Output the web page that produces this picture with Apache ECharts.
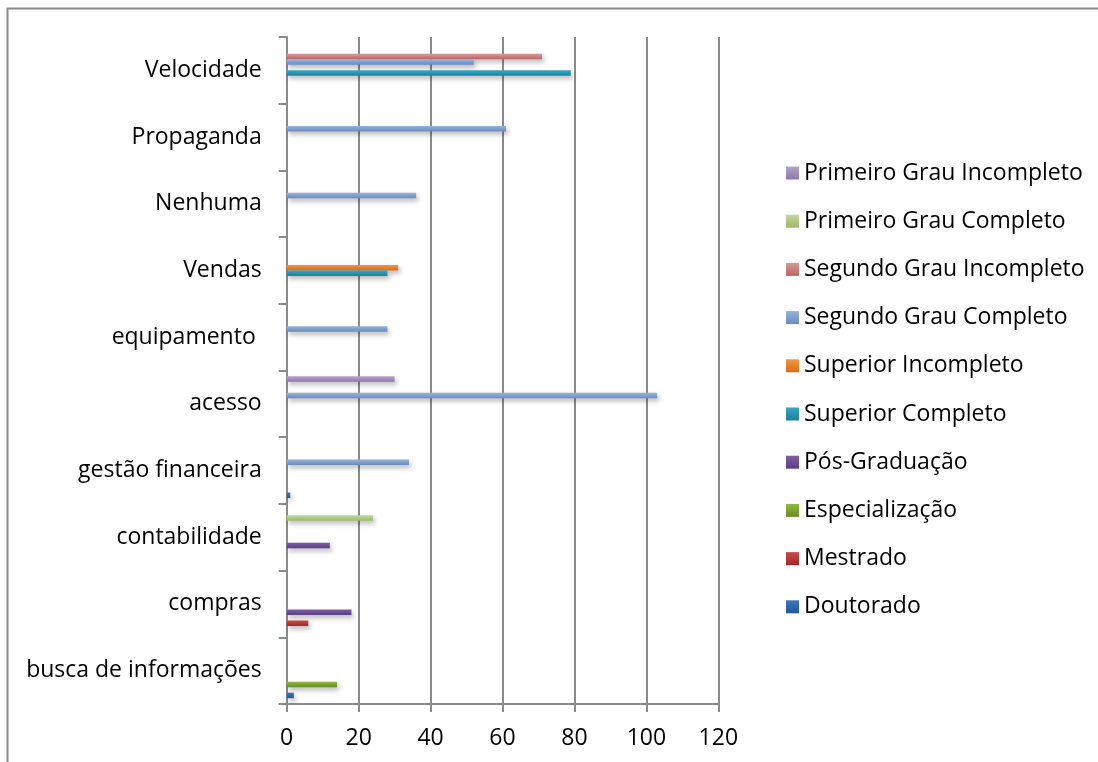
<!DOCTYPE html>
<html>
<head>
<meta charset="utf-8">
<script src="https://cdn.jsdelivr.net/npm/echarts@6/dist/echarts.min.js"></script>
<style>
  html, body { margin: 0; padding: 0; background: #ffffff; }
  #chart { width: 1098px; height: 762px; }
</style>
</head>
<body>
<div id="chart"></div>
<script>
// Categories, bottom to top
const categories = [
  'busca de informações', 'compras', 'contabilidade', 'gestão financeira',
  'acesso', 'equipamento ', 'Vendas', 'Nenhuma', 'Propaganda', 'Velocidade'
];

// One array per schooling level (null = no answer)
const primeiroGrauIncompleto = [null, null, null, null, 30, null, null, null, null, null];
const primeiroGrauCompleto   = [null, null, 24, null, null, null, null, null, null, null];
const segundoGrauIncompleto  = [null, null, null, null, null, null, null, null, null, 71];
const segundoGrauCompleto    = [null, null, null, 34, 103, 28, null, 36, 61, 52];
const superiorIncompleto     = [null, null, null, null, null, null, 31, null, null, null];
const superiorCompleto       = [null, null, null, null, null, null, 28, null, null, 79];
const posGraduacao           = [null, 18, 12, null, null, null, null, null, null, null];
const especializacao         = [14, null, null, null, null, null, null, null, null, null];
const mestrado               = [null, 6, null, null, null, null, null, null, null, null];
const doutorado              = [2, null, null, 1, null, null, null, null, null, null];

const xTicks = [0, 20, 40, 60, 80, 100, 120];

const seriesDefs = [
  { name: 'Primeiro Grau Incompleto', data: primeiroGrauIncompleto, c: ['#B4A4C9', '#8C78AC'] },
  { name: 'Primeiro Grau Completo',   data: primeiroGrauCompleto,   c: ['#C4D89E', '#9BB76A'] },
  { name: 'Segundo Grau Incompleto',  data: segundoGrauIncompleto,  c: ['#DB9896', '#B66664'] },
  { name: 'Segundo Grau Completo',    data: segundoGrauCompleto,    c: ['#97B4DA', '#6A89BE'] },
  { name: 'Superior Incompleto',      data: superiorIncompleto,     c: ['#F7953F', '#D46F1C'] },
  { name: 'Superior Completo',        data: superiorCompleto,       c: ['#33A7C7', '#1F7E9A'] },
  { name: 'Pós-Graduação',            data: posGraduacao,           c: ['#7E5EA6', '#5A3E84'] },
  { name: 'Especialização',           data: especializacao,         c: ['#8FBA40', '#688C28'] },
  { name: 'Mestrado',                 data: mestrado,               c: ['#CA4B46', '#A02826'] },
  { name: 'Doutorado',                data: doutorado,              c: ['#3B76C0', '#245898'] }
];

const FONT = '"Open Sans"';
const FONT_SIZE = 23;
const GRID_GRAY = '#8A8A8A';

const chart = echarts.init(document.getElementById('chart'), null, { renderer: 'canvas' });

const series = seriesDefs.map(s => ({
  name: s.name,
  type: 'bar',
  data: s.data,
  barGap: '0%',
  barCategoryGap: '17.5%',
  itemStyle: {
    color: new echarts.graphic.LinearGradient(0, 0, 0, 1, [
      { offset: 0, color: s.c[0] },
      { offset: 1, color: s.c[1] }
    ]),
    shadowColor: 'rgba(0,0,0,0.28)',
    shadowBlur: 5,
    shadowOffsetX: 2,
    shadowOffsetY: 3
  },
  emphasis: { disabled: true }
}));

chart.setOption({
  backgroundColor: '#ffffff',
  animation: false,
  textStyle: { fontFamily: FONT },
  graphic: [{
    type: 'rect',
    shape: { x: 7.5, y: 8.5, width: 1200, height: 900 },
    style: { fill: 'none', stroke: '#8A8A8A', lineWidth: 2 },
    silent: true,
    z: -1
  }],
  grid: { left: 286.7, top: 37, right: 379.7, bottom: 58, containLabel: false },
  legend: {
    orient: 'vertical',
    left: 781,
    top: 156,
    itemWidth: 13,
    itemHeight: 13,
    itemGap: 24.2,
    icon: 'rect',
    selectedMode: false,
    data: seriesDefs.map(s => s.name),
    textStyle: { fontFamily: FONT, fontSize: FONT_SIZE, color: '#000', lineHeight: 24 }
  },
  xAxis: {
    type: 'value',
    min: xTicks[0],
    max: xTicks[xTicks.length - 1],
    interval: xTicks[1] - xTicks[0],
    axisLine: { show: true, lineStyle: { color: GRID_GRAY, width: 2 } },
    axisTick: { show: true, length: 8, lineStyle: { color: GRID_GRAY, width: 2 } },
    axisLabel: { fontFamily: FONT, fontSize: FONT_SIZE, color: '#000', margin: 23 },
    splitLine: { show: true, lineStyle: { color: GRID_GRAY, width: 2 } }
  },
  yAxis: {
    type: 'category',
    data: categories,
    axisLine: { show: true, lineStyle: { color: GRID_GRAY, width: 2 } },
    axisTick: { show: true, length: 8, lineStyle: { color: GRID_GRAY, width: 2 } },
    axisLabel: { fontFamily: FONT, fontSize: FONT_SIZE, color: '#000', margin: 25 },
    splitLine: { show: false }
  },
  series: series
});
</script>
</body>
</html>
